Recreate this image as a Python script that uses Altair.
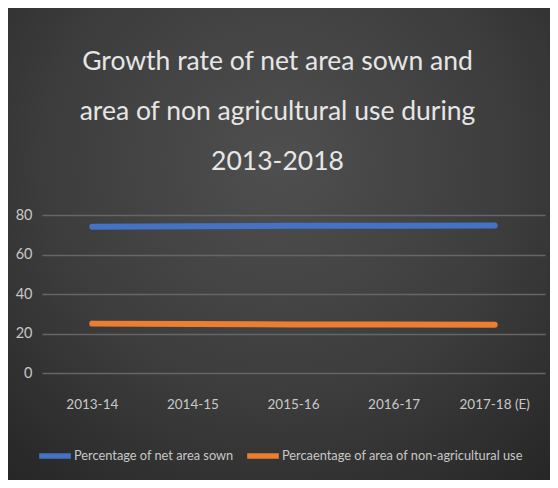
import altair as alt
import pandas as pd

years = ["2013-14", "2014-15", "2015-16", "2016-17", "2017-18 (E)"]
net_area_sown = [74.0, 74.3, 74.5, 74.6, 74.7]
non_agri_use = [25.0, 24.8, 24.6, 24.5, 24.4]
series_names = ["Percentage of net area sown", "Percaentage of area of non-agricultural use"]
colors = ["#4472C4", "#ED7D31"]
y_ticks = [0, 20, 40, 60, 80]

rows = []
for y, v in zip(years, net_area_sown):
    rows.append({"year": y, "value": v, "series": series_names[0]})
for y, v in zip(years, non_agri_use):
    rows.append({"year": y, "value": v, "series": series_names[1]})
df = pd.DataFrame(rows)

W, H = 503, 158
PL, PR, PT, PB = 34, 5, 207, 107
FONT = "Lato"

bg = alt.Chart(pd.DataFrame({"a": [0]})).mark_rect(
    fill=alt.Gradient(
        gradient="radial",
        x1=0.5, y1=0.35, r1=0.0,
        x2=0.5, y2=0.35, r2=0.8,
        stops=[alt.GradientStop(color="#4f4f4f", offset=0),
               alt.GradientStop(color="#3c3c3c", offset=0.55),
               alt.GradientStop(color="#242424", offset=1)],
    ),
    clip=False,
).encode(
    x=alt.value(-PL), x2=alt.value(W + PR),
    y=alt.value(-PT), y2=alt.value(H + PB),
)

lines = alt.Chart(df).mark_line(strokeWidth=6, strokeCap="round").encode(
    x=alt.X("year:N", sort=years, title=None,
            scale=alt.Scale(type="band", paddingInner=0, paddingOuter=0),
            axis=alt.Axis(labelAngle=0, domain=False, ticks=False, labelPadding=24,
                          labelFont=FONT, labelFontSize=13.5,
                          labelColor="#c8c8c8", grid=False, zindex=1)),
    y=alt.Y("value:Q", title=None,
            scale=alt.Scale(domain=[0, 80], nice=False),
            axis=alt.Axis(values=y_ticks, domain=False, ticks=False, labelPadding=10,
                          labelFont=FONT, labelFontSize=14.5,
                          labelColor="#c8c8c8", gridColor="#666666", gridWidth=1.3,
                          zindex=1)),
    color=alt.Color("series:N", sort=series_names,
                    scale=alt.Scale(domain=series_names, range=colors),
                    legend=alt.Legend(
                        title=None, orient="none", legendX=-6, legendY=222,
                        direction="horizontal", symbolType="stroke",
                        symbolSize=1000, symbolStrokeWidth=5.5,
                        labelFont=FONT, labelFontSize=12.8,
                        labelColor="#c8c8c8", labelOffset=0, columnPadding=2,
                        labelLimit=400)),
)

chart = alt.layer(bg, lines).properties(
    width=W, height=H,
    autosize=alt.AutoSizeParams(type="none"),
    padding={"left": PL, "right": PR, "top": PT, "bottom": PB},
    background="#303030",
    title=alt.TitleParams(
        text=["Growth rate of net area sown and",
              "area of non agricultural use during",
              "2013-2018"],
        font=FONT, fontSize=26.5, fontWeight="normal",
        color="#e6e6e6", lineHeight=50, anchor="middle", offset=-167, dx=-16,
    ),
).configure_view(stroke=None)

chart.save("out.html", embed_options={"renderer": "svg", "actions": False})
